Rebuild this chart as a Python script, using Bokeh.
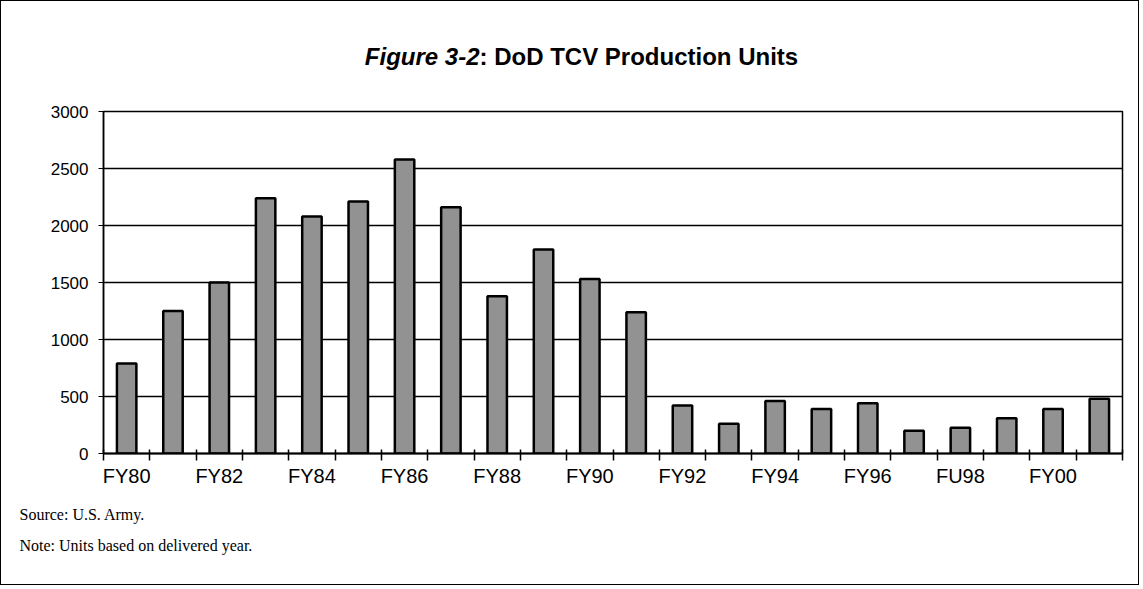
from bokeh.plotting import figure
from bokeh.models import FixedTicker, Label, Range1d, Title
from bokeh.embed import file_html
from bokeh.resources import INLINE

# ---- data ----
years = ["FY80", "FY81", "FY82", "FY83", "FY84", "FY85", "FY86", "FY87", "FY88", "FY89", "FY90",
         "FY91", "FY92", "FY93", "FY94", "FY95", "FY96", "FY97", "FY98", "FY99", "FY00", "FY01"]
units = [790, 1250, 1500, 2240, 2080, 2210, 2580, 2160, 1380, 1790, 1530,
         1240, 420, 260, 460, 390, 440, 200, 225, 310, 390, 480]
x_tick_labels = ["FY80", "FY82", "FY84", "FY86", "FY88", "FY90", "FY92", "FY94", "FY96", "FU98", "FY00"]
y_ticks = [0, 500, 1000, 1500, 2000, 2500, 3000]

n = len(years)
xs = [i + 0.5 for i in range(n)]
label_pos = [2 * k + 0.5 for k in range(len(x_tick_labels))]

p = figure(width=1139, height=585, output_backend="svg", toolbar_location=None,
           x_range=Range1d(0, n), y_range=Range1d(0, 3000),
           min_border_left=102, min_border_right=18, min_border_top=110, min_border_bottom=133)
p.background_fill_color = "white"
p.border_fill_color = "white"
p.outline_line_color = "black"
p.outline_line_width = 1.5
p.styles = {"border": "1px solid black"}

p.vbar(x=xs, top=units, width=0.42, fill_color="#929292", line_color="black", line_width=2.5)

# y axis
p.yaxis.ticker = FixedTicker(ticks=y_ticks)
p.yaxis.axis_line_color = "black"
p.yaxis.axis_line_width = 1.5
p.yaxis.major_tick_out = 5
p.yaxis.major_tick_in = 0
p.yaxis.major_tick_line_color = "black"
p.yaxis.minor_tick_line_color = None
p.yaxis.major_label_text_font = "Liberation Sans"
p.yaxis.major_label_text_font_size = "17px"
p.yaxis.major_label_text_color = "black"
p.yaxis.major_label_standoff = 10
p.ygrid.grid_line_color = "black"
p.ygrid.grid_line_width = 1.5
p.xgrid.grid_line_color = None

# x axis
p.xaxis.ticker = FixedTicker(ticks=label_pos, minor_ticks=list(range(0, n + 1)))
p.xaxis.major_label_overrides = {pos: lab for pos, lab in zip(label_pos, x_tick_labels)}
p.xaxis.axis_line_color = "black"
p.xaxis.axis_line_width = 2
p.xaxis.major_tick_line_color = None
p.xaxis.major_tick_out = 0
p.xaxis.major_tick_in = 0
p.xaxis.minor_tick_line_color = "black"
p.xaxis.minor_tick_line_width = 1.5
p.xaxis.minor_tick_in = 4
p.xaxis.minor_tick_out = 7
p.xaxis.major_label_text_font = "Liberation Sans"
p.xaxis.major_label_text_font_size = "20px"
p.xaxis.major_label_text_color = "black"
p.xaxis.major_label_standoff = 4

# title (mixed style) in the above panels
p.add_layout(Label(x=376, y=55, x_units="screen", y_units="screen", text="Figure 3-2",
                   text_font="Liberation Sans", text_font_style="bold italic",
                   text_font_size="24px", text_align="right", text_baseline="middle",
                   text_color="black"), "above")
p.add_layout(Label(x=376, y=28, x_units="screen", y_units="screen",
                   text=": DoD TCV Production Units",
                   text_font="Liberation Sans", text_font_style="bold",
                   text_font_size="24px", text_align="left", text_baseline="middle",
                   text_color="black"), "above")

# footnotes
p.add_layout(Title(text="Source:  U.S. Army.", text_font="Liberation Serif",
                   text_font_size="16px", text_font_style="normal", align="left",
                   offset=-84, standoff=29, text_color="black"), "below")
p.add_layout(Title(text="Note:  Units based on delivered year.", text_font="Liberation Serif",
                   text_font_size="16px", text_font_style="normal", align="left",
                   offset=-84, standoff=-6, text_color="black"), "below")

open("out.html", "w").write(file_html(p, INLINE))
